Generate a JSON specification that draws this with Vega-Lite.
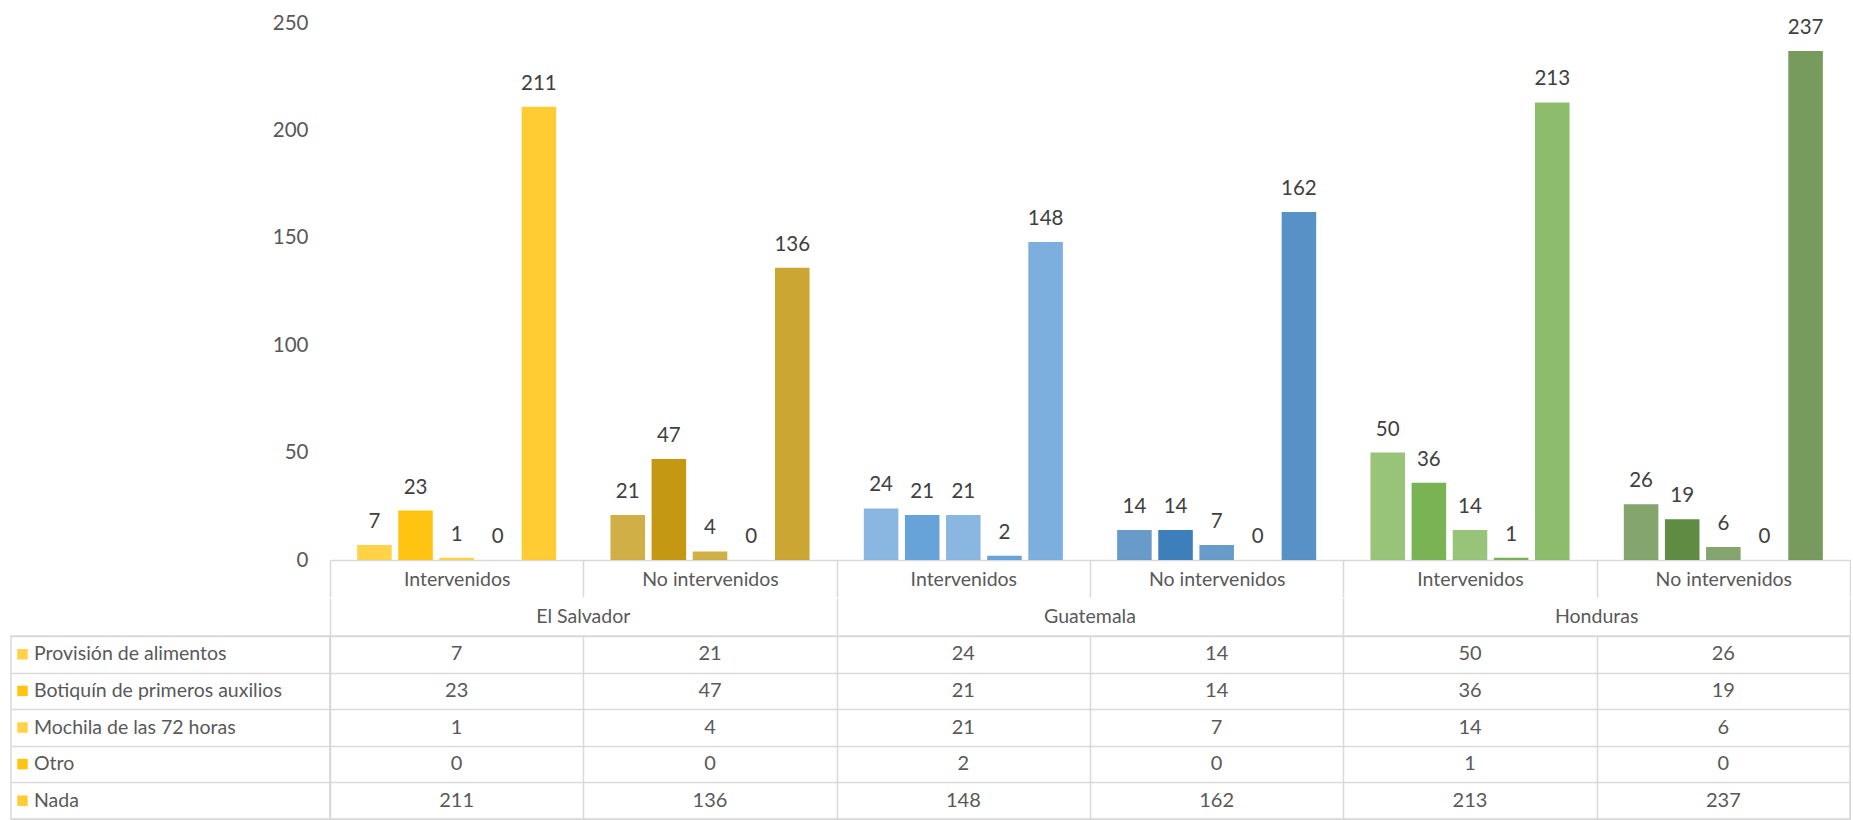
{
  "$schema": "https://vega.github.io/schema/vega-lite/v6.json",
  "padding": {"left": 10, "top": 13, "right": 0, "bottom": 0},
  "config": {"view": {"stroke": null}, "font": "Lato", "text": {"font": "Lato"}, "axis": {"labelFont": "Lato"}},
  "datasets": {
    "main": [
      {"g": "El Salvador|Intervenidos", "series": "Provisión de alimentos", "value": 7},
      {"g": "El Salvador|Intervenidos", "series": "Botiquín de primeros auxilios", "value": 23},
      {"g": "El Salvador|Intervenidos", "series": "Mochila de las 72 horas", "value": 1},
      {"g": "El Salvador|Intervenidos", "series": "Otro", "value": 0},
      {"g": "El Salvador|Intervenidos", "series": "Nada", "value": 211},
      {"g": "El Salvador|No intervenidos", "series": "Provisión de alimentos", "value": 21},
      {"g": "El Salvador|No intervenidos", "series": "Botiquín de primeros auxilios", "value": 47},
      {"g": "El Salvador|No intervenidos", "series": "Mochila de las 72 horas", "value": 4},
      {"g": "El Salvador|No intervenidos", "series": "Otro", "value": 0},
      {"g": "El Salvador|No intervenidos", "series": "Nada", "value": 136},
      {"g": "Guatemala|Intervenidos", "series": "Provisión de alimentos", "value": 24},
      {"g": "Guatemala|Intervenidos", "series": "Botiquín de primeros auxilios", "value": 21},
      {"g": "Guatemala|Intervenidos", "series": "Mochila de las 72 horas", "value": 21},
      {"g": "Guatemala|Intervenidos", "series": "Otro", "value": 2},
      {"g": "Guatemala|Intervenidos", "series": "Nada", "value": 148},
      {"g": "Guatemala|No intervenidos", "series": "Provisión de alimentos", "value": 14},
      {"g": "Guatemala|No intervenidos", "series": "Botiquín de primeros auxilios", "value": 14},
      {"g": "Guatemala|No intervenidos", "series": "Mochila de las 72 horas", "value": 7},
      {"g": "Guatemala|No intervenidos", "series": "Otro", "value": 0},
      {"g": "Guatemala|No intervenidos", "series": "Nada", "value": 162},
      {"g": "Honduras|Intervenidos", "series": "Provisión de alimentos", "value": 50},
      {"g": "Honduras|Intervenidos", "series": "Botiquín de primeros auxilios", "value": 36},
      {"g": "Honduras|Intervenidos", "series": "Mochila de las 72 horas", "value": 14},
      {"g": "Honduras|Intervenidos", "series": "Otro", "value": 1},
      {"g": "Honduras|Intervenidos", "series": "Nada", "value": 213},
      {"g": "Honduras|No intervenidos", "series": "Provisión de alimentos", "value": 26},
      {"g": "Honduras|No intervenidos", "series": "Botiquín de primeros auxilios", "value": 19},
      {"g": "Honduras|No intervenidos", "series": "Mochila de las 72 horas", "value": 6},
      {"g": "Honduras|No intervenidos", "series": "Otro", "value": 0},
      {"g": "Honduras|No intervenidos", "series": "Nada", "value": 237}
    ],
    "countries": [{"country": "El Salvador"}, {"country": "Guatemala"}, {"country": "Honduras"}],
    "series": [
      {"series": "Provisión de alimentos"},
      {"series": "Botiquín de primeros auxilios"},
      {"series": "Mochila de las 72 horas"},
      {"series": "Otro"},
      {"series": "Nada"}
    ],
    "blank": [{}]
  },
  "spacing": 0,
  "vconcat": [
    {
      "spacing": 0,
      "bounds": "flush",
      "hconcat": [
        {"width": 319, "height": 537, "data": {"name": "blank"}, "mark": {"type": "text", "text": ""}},
        {
          "width": 1520,
          "height": 537,
          "data": {"name": "main"},
          "encoding": {
            "x": {
              "field": "g", "type": "nominal",
              "scale": {"type": "band", "paddingInner": 0, "paddingOuter": 0},
              "axis": {
                "title": null, "domain": true, "domainColor": "#D9D9D9", "domainWidth": 1.5,
                "ticks": true, "tickBand": "extent", "tickSize": 37, "tickColor": "#D9D9D9", "tickWidth": 1.5,
                "labelExpr": "split(datum.value, '|')[1]", "labelAngle": 0, "labelBaseline": "middle",
                "labelPadding": -18, "labelFontSize": 19.5, "labelColor": "#595959"
              }
            },
            "xOffset": {
              "field": "series", "type": "nominal",
              "sort": ["Provisión de alimentos", "Botiquín de primeros auxilios", "Mochila de las 72 horas", "Otro", "Nada"],
              "scale": {"paddingInner": 0.16, "paddingOuter": 0.66}
            },
            "y": {
              "field": "value", "type": "quantitative",
              "scale": {"domain": [0, 250], "nice": false},
              "axis": {
                "title": null, "values": [0, 50, 100, 150, 200, 250], "domain": false, "ticks": false, "grid": false,
                "labelPadding": 22, "labelFontSize": 20.5, "labelColor": "#595959"
              }
            }
          },
          "layer": [
            {
              "mark": {"type": "bar"},
              "encoding": {
                "color": {
                  "field": "g", "type": "nominal", "legend": null,
                  "scale": {
                    "domain": ["El Salvador|Intervenidos", "El Salvador|No intervenidos", "Guatemala|Intervenidos", "Guatemala|No intervenidos", "Honduras|Intervenidos", "Honduras|No intervenidos"],
                    "range": ["#FFC000", "#BF9000", "#5B9BD5", "#2E75B6", "#70AD47", "#548235"]
                  }
                },
                "opacity": {
                  "field": "series", "type": "nominal", "legend": null,
                  "scale": {
                    "type": "ordinal",
                    "domain": ["Provisión de alimentos", "Botiquín de primeros auxilios", "Mochila de las 72 horas", "Otro", "Nada"],
                    "range": [0.72, 0.93, 0.72, 0.93, 0.8]
                  }
                }
              }
            },
            {
              "mark": {"type": "text", "baseline": "alphabetic", "dy": -17, "fontSize": 20.5, "color": "#404040"},
              "encoding": {"text": {"field": "value", "type": "quantitative"}}
            }
          ]
        }
      ]
    },
    {
      "spacing": 0,
      "bounds": "flush",
      "hconcat": [
        {"width": 319, "height": 37, "data": {"name": "blank"}, "mark": {"type": "text", "text": ""}},
        {
          "width": 1520,
          "height": 37,
          "data": {"name": "countries"},
          "mark": {"type": "text", "fontSize": 19.5, "color": "#595959"},
          "encoding": {
            "x": {
              "field": "country", "type": "nominal",
              "scale": {"type": "band", "paddingInner": 0, "paddingOuter": 0},
              "axis": {"title": null, "labels": false, "ticks": false, "domain": false, "grid": true, "tickBand": "extent", "gridColor": "#D9D9D9", "gridWidth": 1.5}
            },
            "text": {"field": "country", "type": "nominal"}
          }
        }
      ]
    },
    {
      "spacing": 0,
      "bounds": "flush",
      "hconcat": [
        {
          "width": 319,
          "height": 183,
          "data": {"name": "series"},
          "view": {"stroke": "#D9D9D9", "strokeWidth": 1.5},
          "encoding": {
            "y": {
              "field": "series", "type": "nominal",
              "sort": ["Provisión de alimentos", "Botiquín de primeros auxilios", "Mochila de las 72 horas", "Otro", "Nada"],
              "scale": {"type": "band", "paddingInner": 0, "paddingOuter": 0},
              "axis": {"title": null, "labels": false, "ticks": false, "domain": false, "grid": true, "tickBand": "extent", "gridColor": "#D9D9D9", "gridWidth": 1.5}
            }
          },
          "layer": [
            {
              "mark": {"type": "text", "align": "left", "dx": 23, "fontSize": 19.5, "color": "#595959"},
              "encoding": {
                "x": {"datum": "a", "type": "nominal", "bandPosition": 0, "scale": {"type": "band", "paddingInner": 0, "paddingOuter": 0}, "axis": null},
                "text": {"field": "series", "type": "nominal"}
              }
            },
            {
              "mark": {"type": "point", "shape": "square", "filled": true, "size": 110, "color": "#FFC000"},
              "encoding": {
                "x": {"datum": "a", "type": "nominal", "bandPosition": 0.036, "scale": {"type": "band", "paddingInner": 0, "paddingOuter": 0}, "axis": null},
                "opacity": {
                  "field": "series", "type": "nominal", "legend": null,
                  "scale": {
                    "type": "ordinal",
                    "domain": ["Provisión de alimentos", "Botiquín de primeros auxilios", "Mochila de las 72 horas", "Otro", "Nada"],
                    "range": [0.72, 0.93, 0.72, 0.93, 0.8]
                  }
                }
              }
            }
          ]
        },
        {
          "width": 1520,
          "height": 183,
          "data": {"name": "main"},
          "view": {"stroke": "#D9D9D9", "strokeWidth": 1.5},
          "mark": {"type": "text", "fontSize": 20, "color": "#595959"},
          "encoding": {
            "x": {
              "field": "g", "type": "nominal",
              "scale": {"type": "band", "paddingInner": 0, "paddingOuter": 0},
              "axis": {"title": null, "labels": false, "ticks": false, "domain": false, "grid": true, "tickBand": "extent", "gridColor": "#D9D9D9", "gridWidth": 1.5}
            },
            "y": {
              "field": "series", "type": "nominal",
              "sort": ["Provisión de alimentos", "Botiquín de primeros auxilios", "Mochila de las 72 horas", "Otro", "Nada"],
              "scale": {"type": "band", "paddingInner": 0, "paddingOuter": 0},
              "axis": {"title": null, "labels": false, "ticks": false, "domain": false, "grid": true, "tickBand": "extent", "gridColor": "#D9D9D9", "gridWidth": 1.5}
            },
            "text": {"field": "value", "type": "quantitative"}
          }
        }
      ]
    }
  ]
}
